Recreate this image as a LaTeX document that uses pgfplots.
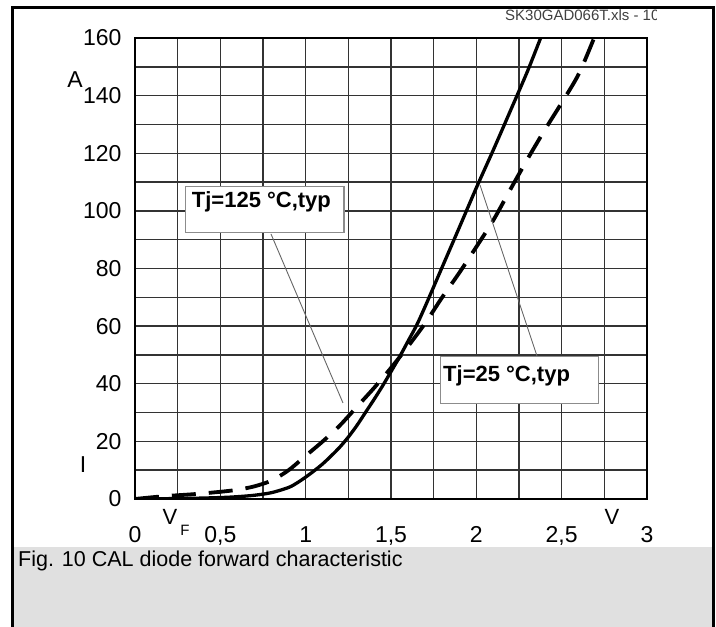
\documentclass[border=0pt]{standalone}
\usepackage{fontspec}
\setmainfont{Liberation Sans}
\usepackage{pgfplots}
\pgfplotsset{compat=1.18}
\definecolor{capgray}{HTML}{E0E0E0}
\begin{document}
\begin{tikzpicture}[font=\fontsize{23}{26}\selectfont]
\path[use as bounding box] (0,0) rectangle (716pt,627pt);
\fill[white] (0,0) rectangle (716pt,627pt);
\begin{axis}[
  at={(135pt,128pt)}, anchor=south west,
  scale only axis, width=512pt, height=461pt,
  xmin=0, xmax=3, ymin=0, ymax=160,
  xtick={0,0.5,1,1.5,2,2.5,3},
  xticklabels={0,{0,5},1,{1,5},2,{2,5},3},
  minor xtick={0.25,0.75,1.25,1.75,2.25,2.75},
  ytick={0,20,40,60,80,100,120,140,160},
  minor ytick={10,30,50,70,90,110,130,150},
  grid=both,
  major grid style={line width=1.4pt, color=black!80},
  minor grid style={line width=1.4pt, color=black!80},
  axis line style={line width=2.6pt},
  tick style={draw=none},
  major tick length=0pt, minor tick length=0pt,
  every tick label/.append style={font=\fontsize{23}{26}\selectfont},
  /pgf/number format/assume math mode=true,
  yticklabel style={xshift=-10pt},
  xticklabel style={yshift=-24pt},
]
\addplot[black, line width=3.3pt, smooth, line join=round] coordinates {
(0,0) (0.3,0.2) (0.5,0.5) (0.6,0.8) (0.7,1.3) (0.8,2.2) (0.9,4.0) (0.95,5.6)
(1.0,7.6) (1.05,9.8) (1.1,12.2) (1.15,15) (1.2,18) (1.25,21.5) (1.3,25.5)
(1.35,30) (1.4,34.5) (1.45,39.2) (1.5,44.2) (1.55,49.3) (1.6,54.8) (1.65,60.3)
(1.7,66.8) (1.8,80.5) (1.9,94.2) (2.0,108) (2.1,121.2) (2.2,134.8) (2.3,148.5) (2.38,160.5)
};
\addplot[black, line width=3.8pt, dash pattern=on 24pt off 13pt, smooth] coordinates {
(0,0) (0.1,0.6) (0.2,1.1) (0.35,1.7) (0.5,2.5) (0.6,3.2) (0.7,4.4) (0.8,6.4)
(0.9,10) (1.0,15) (1.1,20) (1.2,25.5) (1.3,32) (1.4,38.5) (1.5,45.5) (1.6,53)
(1.7,61) (1.8,70) (1.9,78.5) (2.0,87.5) (2.1,96.8) (2.2,107.5) (2.3,118)
(2.4,128) (2.5,137.5) (2.6,147.5) (2.69,160)
};
\end{axis}
\begin{scope}[shift={(0pt,627pt)}, x=1pt, y=-1pt]
  \node[anchor=west, inner sep=0, text=black!75, font=\fontsize{15}{17}\selectfont] at (505,15) {SK30GAD066T.xls - 10};
  \fill[white] (657,10) rectangle (711,546);
  \fill[capgray] (12,547) rectangle (713,627);
  \node[anchor=west, inner sep=0, font=\fontsize{21.5}{24}\selectfont] at (18,561) {Fig. 10 CAL diode forward characteristic};
  \draw[line width=3pt] (12,627) -- (12,8) -- (713,8) -- (713,627);
  \node[font=\fontsize{23}{26}\selectfont, inner sep=0] at (75,80) {A};
  \node[font=\fontsize{23}{26}\selectfont, inner sep=0] at (83,465) {I};
  \node[font=\fontsize{22}{24}\selectfont, inner sep=0] at (170,517) {V};
  \node[font=\fontsize{15}{16}\selectfont, inner sep=0] at (185,530) {F};
  \node[font=\fontsize{22}{24}\selectfont, inner sep=0] at (612,517) {V};
  \draw[line width=0.9pt, black!60] (271,234) -- (343,403);
  \draw[line width=0.9pt, black!60] (480,185) -- (537,356);
  \draw[line width=1.2pt, black!45, fill=white] (185.7,186.7) rectangle (344,232.3);
  \node[anchor=base west, inner sep=0, font=\bfseries\fontsize{22}{24}\selectfont] at (191.7,207.3) {Tj=125 °C,typ};
  \draw[line width=1.2pt, black!45, fill=white] (440.7,356.7) rectangle (598.3,403.3);
  \node[anchor=base west, inner sep=0, font=\bfseries\fontsize{22}{24}\selectfont] at (443,381.7) {Tj=25 °C,typ};
\end{scope}
\end{tikzpicture}
\end{document}
